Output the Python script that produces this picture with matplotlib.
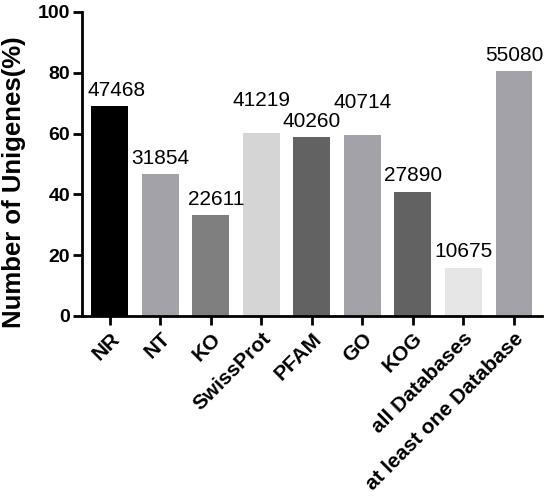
import matplotlib
matplotlib.use("Agg")
import matplotlib.pyplot as plt

categories = ["NR", "NT", "KO", "SwissProt", "PFAM", "GO", "KOG",
              "all Databases", "at least one Database"]
percent = [69.1, 46.7, 33.2, 60.1, 58.8, 59.5, 40.9, 15.9, 80.4]
counts = [47468, 31854, 22611, 41219, 40260, 40714, 27890, 10675, 55080]
colors = ["#000000", "#a3a2a8", "#7f7f7f", "#d5d5d5", "#626262",
          "#a3a2a8", "#626262", "#e6e6e6", "#a3a2a8"]
yticks = [0, 20, 40, 60, 80, 100]

plt.rcParams["font.family"] = ["Liberation Sans", "DejaVu Sans"]

fig = plt.figure(figsize=(5.5, 4.96), dpi=100)
ax = fig.add_axes([0.149, 0.363, 0.836, 0.613])

x = list(range(len(categories)))
bars = ax.bar(x, percent, width=0.73, color=colors, zorder=2)

# label placement (data-unit offsets) reproducing the staggered layout
base_gap = 3.4
extra_gap = {"SwissProt": 5.6, "GO": 5.6}
x_shift = {"NR": 0.13, "KO": 0.1}
for cat, rect, c in zip(categories, bars, counts):
    cx = rect.get_x() + rect.get_width() / 2 + x_shift.get(cat, 0)
    cy = rect.get_height() + base_gap + extra_gap.get(cat, 0)
    ax.text(cx, cy, str(c), ha="center", va="baseline", fontsize=15)

ax.set_xlim(-0.55, len(categories) - 0.45)
ax.set_ylim(0, 100)
ax.set_yticks(yticks)
ax.set_xticks(x)
ax.set_xticklabels(categories, rotation=45, ha="right", rotation_mode="anchor",
                   fontsize=15, fontweight="bold")
for lab in ax.get_yticklabels():
    lab.set_fontsize(14)
    lab.set_fontweight("bold")
ax.set_ylabel("Number of Unigenes(%)", fontsize=18.5, fontweight="bold")
ax.yaxis.set_label_coords(-0.122, 0.44)

for s in ["top", "right"]:
    ax.spines[s].set_visible(False)
for s in ["left", "bottom"]:
    ax.spines[s].set_linewidth(2)
ax.tick_params(axis="both", width=2, length=6.5, direction="out")
ax.tick_params(axis="x", pad=3)
ax.tick_params(axis="y", pad=2)

fig.savefig("out.png", dpi=100)
